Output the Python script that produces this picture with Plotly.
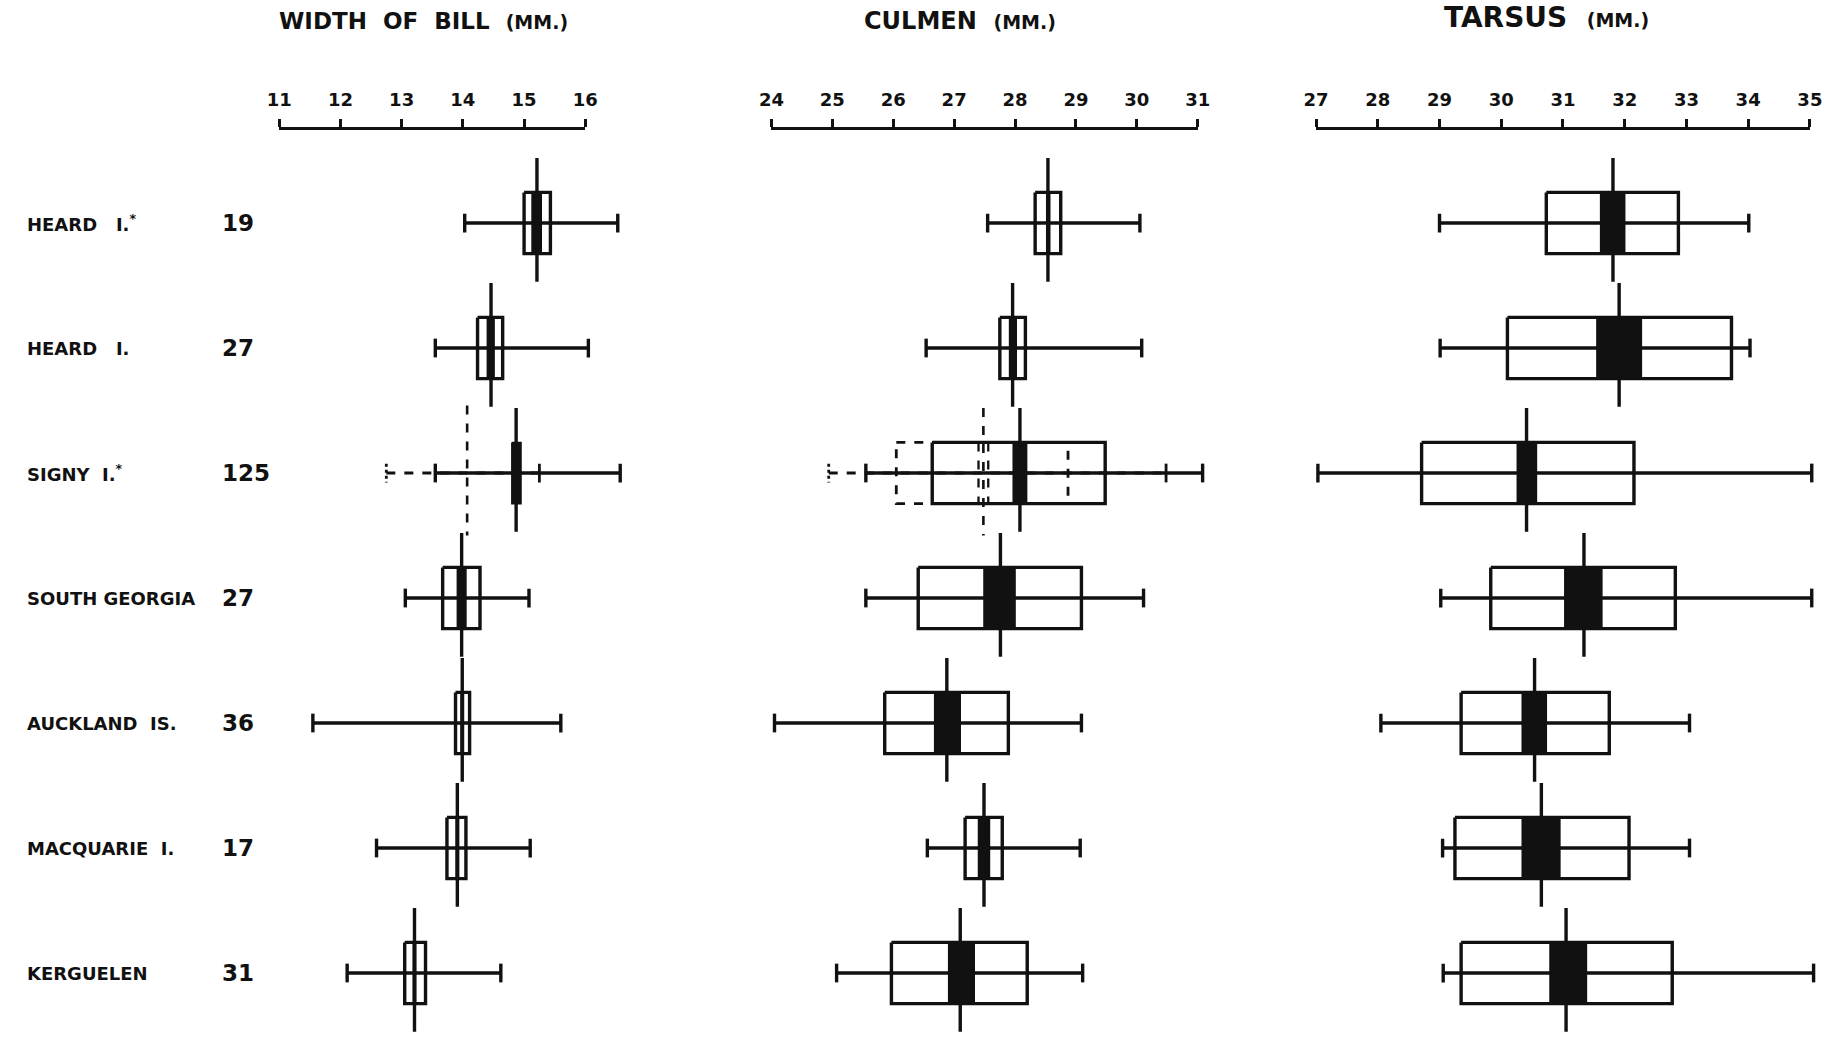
import plotly.graph_objects as go

# ---------------- data ----------------
rows = ["HEARD\u00a0\u00a0\u00a0I.<sup>*</sup>", "HEARD\u00a0\u00a0\u00a0I.", "SIGNY\u00a0\u00a0I.<sup>*</sup>",
        "SOUTH\u00a0GEORGIA", "AUCKLAND\u00a0\u00a0IS.", "MACQUARIE\u00a0\u00a0I.", "KERGUELEN"]
counts = [19, 27, 125, 27, 36, 17, 31]

# Width of bill (mm)
bill_min = [14.03, 13.55, 13.55, 13.06, 11.55, 12.59, 12.11]
bill_max = [16.53, 16.05, 16.57, 15.08, 15.60, 15.10, 14.62]
bill_sd_lo = [15.00, 14.24, None, 13.67, 13.88, 13.74, 13.05]
bill_sd_hi = [15.43, 14.65, None, 14.28, 14.11, 14.05, 13.39]
bill_se_lo = [15.13, 14.40, 14.80, 13.91, 13.97, 13.89, 13.19]
bill_se_hi = [15.28, 14.51, 14.95, 14.05, 14.01, 13.93, 13.23]
bill_mean = [15.21, 14.46, 14.87, 13.98, 13.99, 13.91, 13.21]

# Culmen (mm)
cul_min = [27.55, 26.54, 25.55, 25.55, 24.05, 26.56, 25.07]
cul_max = [30.05, 30.08, 31.08, 30.11, 29.09, 29.07, 29.11]
cul_sd_lo = [28.33, 27.75, 26.64, 26.41, 25.86, 27.18, 25.97]
cul_sd_hi = [28.75, 28.17, 29.48, 29.09, 27.89, 27.79, 28.20]
cul_se_lo = [28.52, 27.91, 27.97, 27.49, 26.68, 27.40, 26.91]
cul_se_hi = [28.57, 28.02, 28.19, 28.00, 27.10, 27.58, 27.33]
cul_mean = [28.54, 27.96, 28.08, 27.76, 26.88, 27.49, 27.10]

# Tarsus (mm)
tar_min = [29.00, 29.01, 27.03, 29.02, 28.05, 29.05, 29.06]
tar_max = [34.01, 34.03, 35.03, 35.03, 33.05, 33.05, 35.06]
tar_sd_lo = [30.73, 30.10, 28.71, 29.83, 29.35, 29.25, 29.35]
tar_sd_hi = [32.87, 33.73, 32.15, 32.82, 31.75, 32.07, 32.77]
tar_se_lo = [31.61, 31.55, 30.26, 31.03, 30.34, 30.34, 30.79]
tar_se_hi = [32.00, 32.27, 30.57, 31.63, 30.73, 30.95, 31.38]
tar_mean = [31.81, 31.91, 30.41, 31.34, 30.54, 30.65, 31.05]

# Second (dashed) Signy I. sample
signy_row = 2
bill_alt_min, bill_alt_max, bill_alt_mean = 12.75, 15.25, 14.07
cul_alt_min, cul_alt_max, cul_alt_mean = 24.94, 30.48, 27.48
cul_alt_sd_lo, cul_alt_sd_hi = 26.05, 28.87
cul_alt_se_lo, cul_alt_se_hi = 27.40, 27.56

titles = ["WIDTH\u00a0\u00a0OF\u00a0\u00a0BILL", "CULMEN", "TARSUS"]
tick_ranges = [(11, 16), (24, 31), (27, 35)]

# ---------------- layout geometry (pixels) ----------------
W, H = 1843, 1045
AXIS_Y = 130          # y pixel of the top axis lines
ROW0, ROWSTEP = 223, 125
# pixel anchors of the first/last tick of each scale, and data-domain extents
anchors = [(270.0, 580.5), (769.3, 1201.7), (1321.7, 1822.6)]
data_dom = [(200, 650), (680, 1280), (1290, 1843)]

BOX_H = 0.245   # half height of boxes in row units
CAP_H = 0.075
MEAN_TOP, MEAN_BOT = -0.52, 0.47
LW = 3.4
BLACK = "#111111"
FONT = "DejaVu Sans"

fig = go.Figure()


def px2val(px, k):
    (p0, p1), (v0, v1) = anchors[k], tick_ranges[k]
    return v0 + (px - p0) * (v1 - v0) / (p1 - p0)


def add_lines(xs, ys, k, dash="solid", width=LW):
    fig.add_trace(go.Scatter(x=xs, y=ys, mode="lines", xaxis=f"x{k+1}" if k else "x", yaxis="y",
                             line=dict(color=BLACK, width=width, dash=dash), hoverinfo="skip"))


def add_fill(xs, ys, k):
    fig.add_trace(go.Scatter(x=xs, y=ys, mode="lines", fill="toself", fillcolor=BLACK,
                             xaxis=f"x{k+1}" if k else "x", yaxis="y",
                             line=dict(color=BLACK, width=1.5), hoverinfo="skip"))


def rect(lo, hi, y, h):
    return [lo, hi, hi, lo, lo, None], [y - h, y - h, y + h, y + h, y - h, None]


panels = [
    (bill_min, bill_max, bill_sd_lo, bill_sd_hi, bill_se_lo, bill_se_hi, bill_mean),
    (cul_min, cul_max, cul_sd_lo, cul_sd_hi, cul_se_lo, cul_se_hi, cul_mean),
    (tar_min, tar_max, tar_sd_lo, tar_sd_hi, tar_se_lo, tar_se_hi, tar_mean),
]

for k, (mn, mx, sdl, sdh, sel, seh, mean) in enumerate(panels):
    # dashed alternative sample for Signy
    y = signy_row
    if k == 0:
        add_lines([bill_alt_min, bill_alt_max], [y, y], k, dash="dash", width=2.8)
        add_lines([bill_alt_min, bill_alt_min], [y - CAP_H, y + CAP_H], k, dash="dot", width=2.8)
        add_lines([bill_alt_max, bill_alt_max], [y - CAP_H, y + CAP_H], k, width=2.8)
        add_lines([bill_alt_mean, bill_alt_mean], [y + MEAN_TOP - 0.02, y + MEAN_BOT + 0.03], k,
                  dash="dash", width=2.6)
    if k == 1:
        add_lines([cul_alt_min, cul_alt_max], [y, y], k, dash="dash", width=2.8)
        add_lines([cul_alt_min, cul_alt_min], [y - CAP_H, y + CAP_H], k, dash="dot", width=2.8)
        add_lines([cul_alt_max, cul_alt_max], [y - CAP_H, y + CAP_H], k, width=2.8)
        bx, by = rect(cul_alt_sd_lo, cul_alt_sd_hi, y, BOX_H)
        add_lines(bx, by, k, dash="dash", width=2.8)
        add_lines([cul_alt_se_lo, cul_alt_se_lo, None, cul_alt_se_hi, cul_alt_se_hi],
                  [y - BOX_H, y + BOX_H, None, y - BOX_H, y + BOX_H], k, dash="dash", width=2.3)
        add_lines([cul_alt_mean, cul_alt_mean], [y + MEAN_TOP, y + MEAN_BOT + 0.03], k,
                  dash="dash", width=2.6)

    # whiskers + caps
    wx, wy, cx, cy = [], [], [], []
    for i in range(len(rows)):
        wx += [mn[i], mx[i], None]
        wy += [i, i, None]
        cx += [mn[i], mn[i], None, mx[i], mx[i], None]
        cy += [i - CAP_H, i + CAP_H, None, i - CAP_H, i + CAP_H, None]
    add_lines(wx, wy, k)
    add_lines(cx, cy, k)
    # SD boxes
    bx, by = [], []
    for i in range(len(rows)):
        if sdl[i] is not None:
            rx, ry = rect(sdl[i], sdh[i], i, BOX_H)
            bx += rx
            by += ry
    add_lines(bx, by, k)
    # SE black bars
    fx, fy = [], []
    for i in range(len(rows)):
        rx, ry = rect(sel[i], seh[i], i, BOX_H)
        fx += rx
        fy += ry
    add_fill(fx, fy, k)
    # mean lines
    mxs, mys = [], []
    for i in range(len(rows)):
        mxs += [mean[i], mean[i], None]
        mys += [i + MEAN_TOP, i + MEAN_BOT, None]
    add_lines(mxs, mys, k)

# dummy traces to anchor visible scale axes
for k in range(3):
    lo, hi = tick_ranges[k]
    fig.add_trace(go.Scatter(x=[lo, hi], y=[-0.7, -0.7], mode="markers", xaxis=f"x{k+4}", yaxis="y",
                             marker=dict(opacity=0), hoverinfo="skip"))

# ---------------- axes ----------------
ydom_top = 1 - AXIS_Y / H
y_top = (AXIS_Y - ROW0) / ROWSTEP
y_bot = (H - ROW0) / ROWSTEP
layout_axes = dict(
    yaxis=dict(domain=[0, ydom_top], range=[y_bot, y_top], visible=False, fixedrange=True),
)
for k in range(3):
    d0, d1 = data_dom[k]
    name = "xaxis" if k == 0 else f"xaxis{k+1}"
    layout_axes[name] = dict(domain=[d0 / W, d1 / W], range=[px2val(d0, k), px2val(d1, k)],
                             visible=False, anchor="y", fixedrange=True)
    p0, p1 = anchors[k]
    lo, hi = tick_ranges[k]
    layout_axes[f"xaxis{k+4}"] = dict(
        domain=[p0 / W, p1 / W], range=[lo, hi], anchor="y", side="top",
        showline=True, linecolor=BLACK, linewidth=3, mirror=False,
        ticks="outside", ticklen=8, tickwidth=2.5, tickcolor=BLACK,
        tickmode="linear", tick0=lo, dtick=1, showgrid=False, zeroline=False,
        tickfont=dict(family=FONT, size=18, color=BLACK, weight="bold"),
        ticklabelstandoff=6, fixedrange=True,
    )

fig.update_layout(
    width=W, height=H, margin=dict(l=0, r=0, t=0, b=0),
    paper_bgcolor="white", plot_bgcolor="rgba(0,0,0,0)", showlegend=False,
    **layout_axes,
)

# titles
title_x = [416, 961, 1555]
title_y = [21, 21, 17]
title_size = [23, 24, 28]
for k in range(3):
    fig.add_annotation(
        x=title_x[k] / W, y=1 - title_y[k] / H, xref="paper", yref="paper",
        xanchor="center", yanchor="middle", showarrow=False,
        text=f"{titles[k]}\u00a0\u00a0<span style='font-size:19px'>(MM.)</span>",
        font=dict(family=FONT, size=title_size[k], color=BLACK, weight="bold"),
    )

# row labels and sample sizes
for i, (lab, n) in enumerate(zip(rows, counts)):
    fig.add_annotation(x=12 / W, xref="paper", y=i, yref="y", xanchor="left", yanchor="middle",
                       showarrow=False, text=lab,
                       font=dict(family=FONT, size=18, color=BLACK, weight="bold"))
    fig.add_annotation(x=210 / W, xref="paper", y=i, yref="y", xanchor="left", yanchor="middle",
                       showarrow=False, text=str(n),
                       font=dict(family=FONT, size=23, color=BLACK, weight="bold"))

fig.write_html("out.html",
               post_script="document.body.style.margin='0';document.body.style.overflow='hidden';")
